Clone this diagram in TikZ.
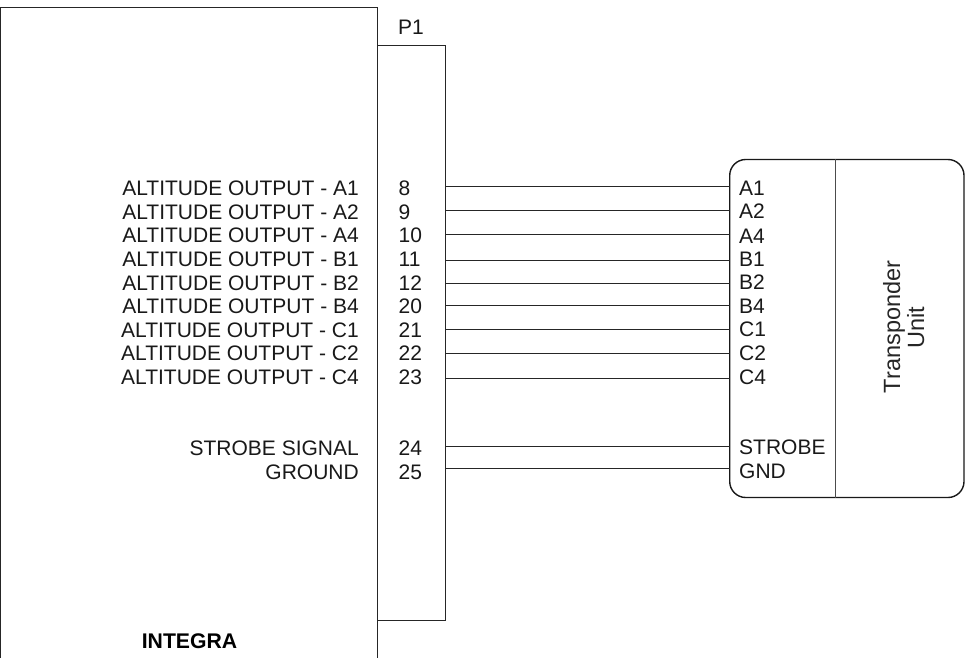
\documentclass[tikz,border=0pt]{standalone}
\usepackage{fontspec}
\setmainfont{Liberation Sans}
\begin{document}
\begin{tikzpicture}[x=1pt,y=-1pt,
  box/.style={draw=black!85,line width=1pt},
  unitbox/.style={draw=black!90,line width=1.4pt,rounded corners=16pt},
  wire/.style={draw=black!85,line width=0.9pt},
  lbl/.style={font=\fontsize{21pt}{22pt}\selectfont,inner sep=0pt,text=black!90},
  sig/.style={lbl,anchor=base east},
  pin/.style={lbl,anchor=base west},
  port/.style={lbl,anchor=base west},
  unitlbl/.style={font=\fontsize{23.5pt}{24pt}\selectfont,inner sep=0pt,text=black!85,rotate=90,anchor=base}]
\useasboundingbox (0,0) rectangle (972,658);
\fill[white] (0,0) rectangle (972,658);
\coordinate (lt) at (0.5,8);
\coordinate (rt) at (377.7,8);
\coordinate (rb) at (377.7,658);
\coordinate (lb) at (0.5,658);
\draw[box] (lb) -- (lt) -- (rt) -- (rb);
\coordinate (pa) at (377.7,46);
\coordinate (pb) at (445,46);
\coordinate (pc) at (445,620.5);
\coordinate (pd) at (377.7,620.5);
\draw[box] (pa) -- (pb) -- (pc) -- (pd);
\node[lbl,anchor=base west] (p1) at (398,35) {P1};
\node[anchor=base,inner sep=0pt,font=\fontsize{21.2pt}{22pt}\selectfont\bfseries] (integra) at (189.5,648.3) {INTEGRA};
\draw[unitbox] (729.7,159.5) rectangle (964,497.5);
\coordinate (da) at (835,159.5);
\coordinate (db) at (835,497.5);
\draw[box,draw=black!70] (da) -- (db);
\node[unitlbl] (tu) at (900,327) {Transponder};
\node[unitlbl] (tu2) at (924,327.5) {Unit};
\foreach \n/\sigtext/\pintext/\porttext/\y/\bl/\pb in {
  a/ALTITUDE OUTPUT - A1/8/A1/186.7/195/195,
  b/ALTITUDE OUTPUT - A2/9/A2/210.7/219/218.5,
  c/ALTITUDE OUTPUT - A4/10/A4/234/242/243,
  d/ALTITUDE OUTPUT - B1/11/B1/260/266/266,
  e/ALTITUDE OUTPUT - B2/12/B2/283.3/290/289.5,
  f/ALTITUDE OUTPUT - B4/20/B4/305/313.3/313.3,
  g/ALTITUDE OUTPUT - C1/21/C1/329.3/337/336.7,
  h/ALTITUDE OUTPUT - C2/22/C2/353.3/360/360.7,
  i/ALTITUDE OUTPUT - C4/23/C4/378.3/384/384.3,
  j/STROBE SIGNAL/24/STROBE/446/455/454.3,
  k/GROUND/25/GND/468.3/479/478.3}{
  \node[sig] (s\n) at (359,\bl) {\sigtext};
  \node[pin] (q\n) at (398.5,\bl) {\pintext};
  \node[port] (r\n) at (739,\pb) {\porttext};
  \coordinate (w\n) at (445,\y);
  \coordinate (v\n) at (729.7,\y);
  \draw[wire] (w\n) -- (v\n);
}
\end{tikzpicture}
\end{document}
